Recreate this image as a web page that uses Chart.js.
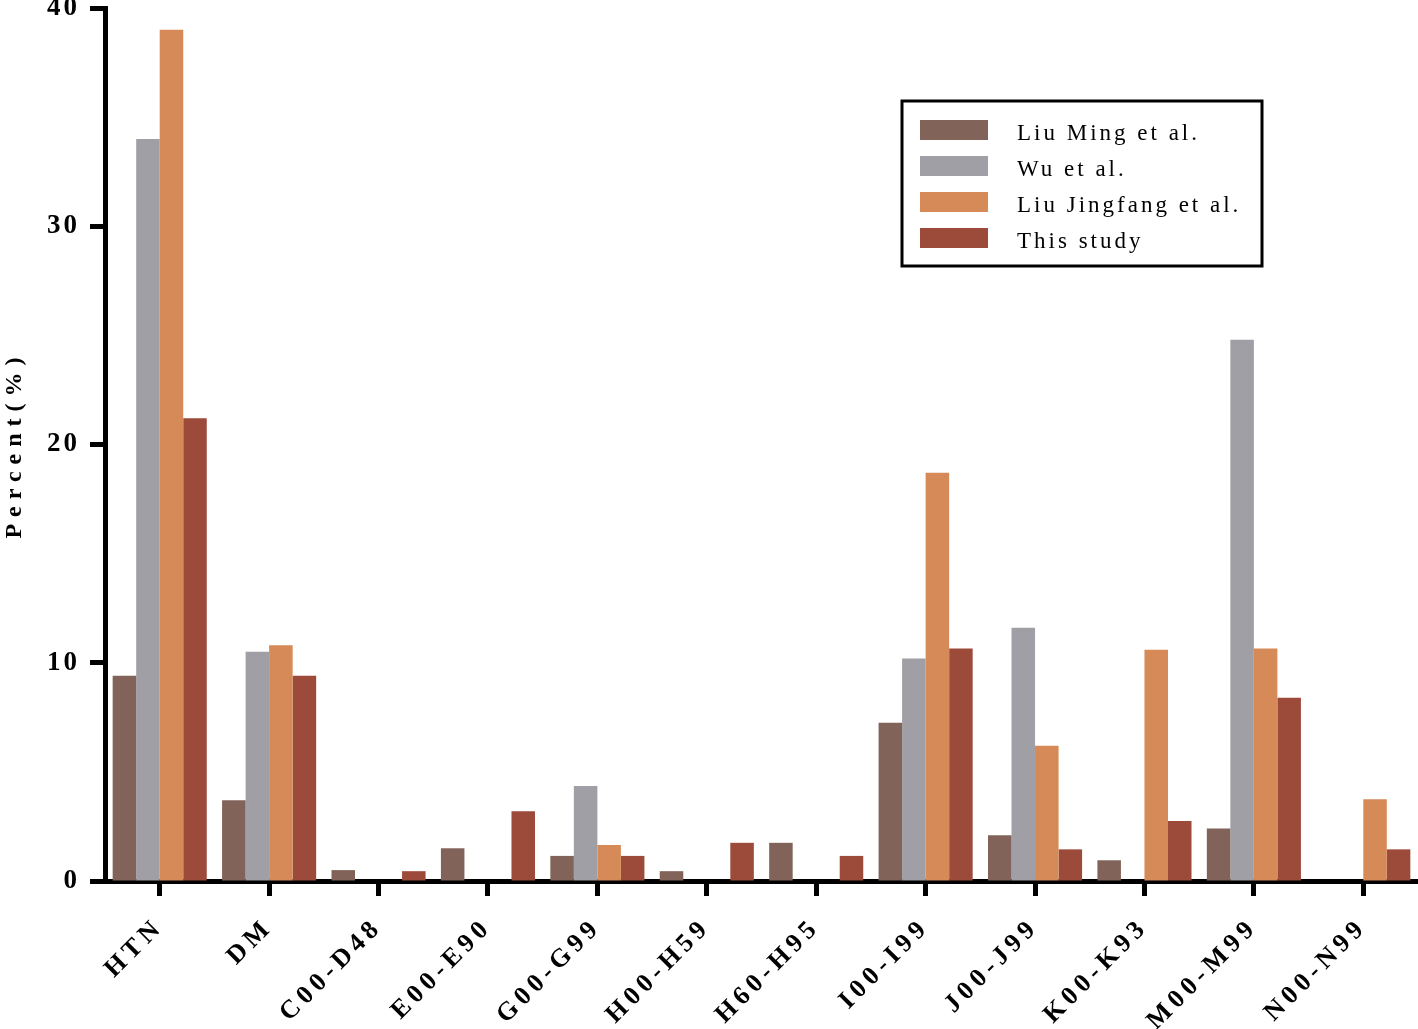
<!DOCTYPE html>
<html>
<head>
<meta charset="utf-8">
<script src="https://cdn.jsdelivr.net/npm/chart.js@4"></script>
<style>
  html, body { margin: 0; padding: 0; background: #fff; }
  #wrap { width: 1418px; height: 1029px; }
</style>
</head>
<body>
<div id="wrap"><canvas id="myChart" width="1418" height="1029"></canvas></div>
<script>
// data
const categories = ['HTN', 'DM', 'C00-D48', 'E00-E90', 'G00-G99', 'H00-H59', 'H60-H95', 'I00-I99', 'J00-J99', 'K00-K93', 'M00-M99', 'N00-N99'];
const liuMing     = [9.4, 3.7, 0.5, 1.5, 1.15, 0.45, 1.75, 7.25, 2.1, 0.95, 2.4, 0];
const wu          = [34.0, 10.5, 0, 0, 4.35, 0, 0, 10.2, 11.6, 0, 24.8, 0];
const liuJingfang = [39.0, 10.8, 0, 0, 1.65, 0, 0, 18.7, 6.2, 10.6, 10.65, 3.75];
const thisStudy   = [21.2, 9.4, 0.45, 3.2, 1.15, 1.75, 1.15, 10.65, 1.45, 2.75, 8.4, 1.45];
const seriesNames = ['Liu Ming et al.', 'Wu et al.', 'Liu Jingfang et al.', 'This study'];
const yTicks = [0, 10, 20, 30, 40];

const colors = ['#81635a', '#a09fa5', '#d58a57', '#9c4a3a'];
const serif = '"Liberation Serif", "Times New Roman", serif';

// wrap a scale method so its text gets letter spacing
function spaced(scale, method, px) {
  if (scale['_sp_' + method]) return;
  const orig = scale[method];
  scale[method] = function () {
    const c = this.ctx;
    c.save();
    c.letterSpacing = px;
    orig.apply(this, arguments);
    c.restore();
  };
  scale['_sp_' + method] = true;
}

const spacing = {
  id: 'spacing',
  afterUpdate(chart) {
    spaced(chart.scales.x, 'drawLabels', '5px');
    spaced(chart.scales.y, 'drawLabels', '3px');
    spaced(chart.scales.y, 'drawTitle', '7px');
  }
};

// boxed legend in the top right
const boxLegend = {
  id: 'boxLegend',
  afterDraw(chart) {
    const ctx = chart.ctx;
    ctx.save();
    ctx.lineWidth = 3;
    ctx.strokeStyle = '#000';
    ctx.strokeRect(902, 101, 360, 165);
    ctx.font = '23px ' + serif;
    ctx.letterSpacing = '3px';
    ctx.textBaseline = 'middle';
    chart.data.datasets.forEach((ds, i) => {
      const y = 130 + i * 36;
      ctx.fillStyle = ds.backgroundColor;
      ctx.fillRect(920, y - 10, 68, 20);
      ctx.fillStyle = '#000';
      ctx.fillText(ds.label, 1017, y + 4);
    });
    ctx.restore();
  }
};

const series = [liuMing, wu, liuJingfang, thisStudy];

const ctx = document.getElementById('myChart');
const myChart = new Chart(ctx, {
  type: 'bar',
  data: {
    labels: categories,
    datasets: series.map((d, i) => ({
      label: seriesNames[i],
      data: d,
      backgroundColor: colors[i],
      borderWidth: 0,
      categoryPercentage: 0.86,
      barPercentage: 1.0
    }))
  },
  options: {
    responsive: false,
    animation: false,
    devicePixelRatio: 1,
    layout: { padding: { top: 8, left: 0, right: 0, bottom: 0 } },
    plugins: {
      legend: { display: false },
      tooltip: { enabled: false }
    },
    scales: {
      x: {
        grid: {
          offset: false,
          drawOnChartArea: false,
          tickLength: 15,
          tickWidth: 5,
          tickColor: '#000'
        },
        border: { width: 5, color: '#000' },
        ticks: {
          color: '#000',
          font: { family: serif, size: 26, weight: 'bold' },
          minRotation: 45,
          maxRotation: 45,
          padding: 16,
          autoSkip: false
        },
        afterFit(s) {
          s.height = 148;
          s.paddingLeft = 0;
          s.paddingRight = 0;
        }
      },
      y: {
        min: 0,
        max: 40,
        grid: {
          drawOnChartArea: false,
          tickLength: 15,
          tickWidth: 5,
          tickColor: '#000'
        },
        border: { width: 5, color: '#000' },
        ticks: {
          color: '#000',
          font: { family: serif, size: 27, weight: 'bold' },
          padding: 10
        },
        afterBuildTicks(s) {
          s.ticks = yTicks.map(v => ({ value: v }));
        },
        title: {
          display: true,
          text: 'Percent(%)',
          color: '#000',
          font: { family: serif, size: 24, weight: 'bold' },
          padding: 0
        },
        afterFit(s) {
          s.width = 105;
          s.paddingTop = 0;
          s.paddingBottom = 0;
        }
      }
    }
  },
  plugins: [spacing, boxLegend]
});
</script>
</body>
</html>
